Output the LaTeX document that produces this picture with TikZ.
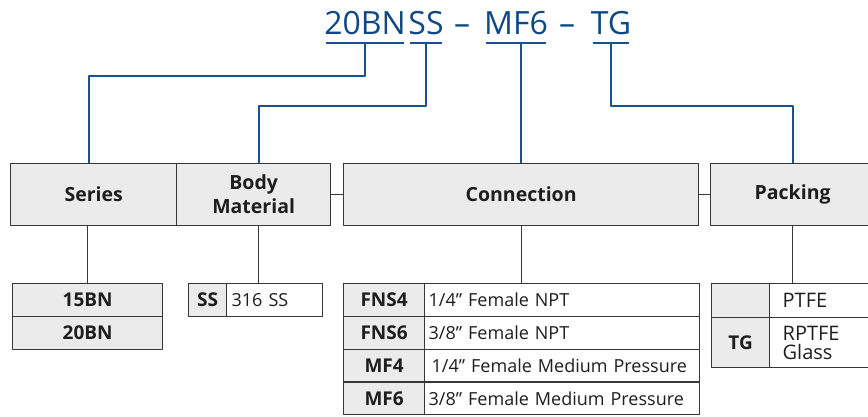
\documentclass[tikz,border=0pt]{standalone}
\usepackage{fontspec}
\setmainfont{Open Sans}
\definecolor{codeblue}{RGB}{24,82,148}
\definecolor{ttlblue}{RGB}{14,72,134}
\definecolor{boxgray}{RGB}{235,235,235}
\definecolor{boxline}{RGB}{55,55,55}
\definecolor{txtgray}{RGB}{30,30,30}
\begin{document}
\begin{tikzpicture}[x=1pt,y=-1pt, line join=round,
	ttl/.style={inner sep=0pt, anchor=base, text=ttlblue, font=\fontsize{32}{34}\selectfont},
	hdr/.style={draw=boxline, fill=boxgray, line width=1.3pt, inner sep=0pt, anchor=north west, minimum height=62pt, align=center, text=txtgray, font=\fontsize{19.5}{24}\selectfont\bfseries},
	code/.style={draw=boxline, fill=boxgray, line width=1.3pt, inner sep=0pt, anchor=north west, text=txtgray, font=\fontsize{19}{21}\selectfont\bfseries},
	desc/.style={draw=boxline, fill=white, line width=1.3pt, inner ysep=0pt, inner xsep=4pt, anchor=north west, align=left, text=txtgray, font=\fontsize{18}{20}\selectfont},
	link/.style={draw=codeblue, line width=2pt},
	tie/.style={draw=boxline, line width=1.2pt}]
	\useasboundingbox (0,0) rectangle (868,416);
	\clip (0,0) rectangle (868,416);
	% model code
	\node[ttl] (t20BN) at (365,34) {20BN};
	\node[ttl] (tSS) at (426,34) {SS};
	\node[ttl] at (462,34) {–};
	\node[ttl] (tMF6) at (516,34) {MF6};
	\node[ttl] at (567,34) {–};
	\node[ttl] (tTG) at (611,34) {TG};
	\coordinate (ul) at (0,43);
	\foreach \t in {t20BN,tSS,tMF6,tTG}
		\draw[link] ([xshift=2pt]\t.south west |- ul) -- ([xshift=-2pt]\t.south east |- ul);
	% header boxes
	\node[hdr, minimum width=166pt] (series) at (10,163) {Series};
	\node[hdr, minimum width=154pt] (body) at (176,163) {Body\\Material};
	\node[hdr, minimum width=355pt] (conn) at (343,163) {Connection};
	\node[hdr, minimum width=164pt] (pack) at (710,163) {Packing};
	\draw[tie] (body.east) -- (conn.west);
	\draw[tie] (conn.east) -- (pack.west);
	% code lines
	\draw[link] (t20BN.south |- ul) -- ++(0,33) -| ([xshift=-5pt]series.north);
	\draw[link] (tSS.south |- ul) -- ++(0,63) -| ([xshift=5pt]body.north);
	\draw[link] (conn.north) -- (conn.north |- ul);
	\draw[link] (tTG.south |- ul) -- ++(0,63) -| (pack.north);
	% series
	\node[code, minimum width=150pt, minimum height=33pt] (s15) at (12,283) {15BN};
	\node[code, minimum width=150pt, minimum height=33pt] (s20) at (12,316) {20BN};
	% body material
	\node[code, minimum width=38pt, minimum height=33pt] (bSS) at (188,283) {SS};
	\node[desc, text width=86pt, inner xsep=5pt, minimum height=33pt] (bDesc) at (226,283) {316 SS};
	% connection
	\node[code, minimum width=81pt, minimum height=32.75pt] (cFNS4) at (343,283) {FNS4};
	\node[code, minimum width=81pt, minimum height=32.75pt] (cFNS6) at (343,315.75) {FNS6};
	\node[code, minimum width=81pt, minimum height=32.75pt] (cMF4) at (343,348.5) {MF4};
	\node[code, minimum width=81pt, minimum height=32.75pt] (cMF6) at (343,381.25) {MF6};
	\node[desc, text width=267pt, minimum height=32.75pt] (dFNS4) at (424,283) {1/4" Female NPT};
	\node[desc, text width=267pt, minimum height=32.75pt] (dFNS6) at (424,315.75) {3/8" Female NPT};
	\node[desc, text width=267pt, minimum height=32.75pt] (dMF4) at (424,348.5) {\,1/4" Female Medium Pressure};
	\node[desc, text width=267pt, minimum height=32.75pt] (dMF6) at (424,381.25) {3/8" Female Medium Pressure};
	% packing
	\node[code, minimum width=58pt, minimum height=34pt] (pBlank) at (711,283) {};
	\node[code, minimum width=58pt, minimum height=50pt] (pTG) at (711,317) {TG};
	\node[desc, text width=85pt, inner xsep=13pt, minimum height=34pt, font=\fontsize{20}{22}\selectfont] (pPTFE) at (769,283) {PTFE};
	\node[desc, text width=85pt, inner xsep=13pt, minimum height=50pt, font=\fontsize{20}{19}\selectfont] (pRPTFE) at (769,317) {RPTFE\\Glass};
	% drops
	\draw[tie] (s15.north) -- (s15.north |- series.south);
	\draw[tie] ([xshift=5pt]body.south) -- ([xshift=5pt]body.south |- bDesc.north);
	\draw[tie] (conn.south) -- (conn.south |- dFNS4.north);
	\draw[tie] (pack.south) -- (pack.south |- pPTFE.north);
\end{tikzpicture}
\end{document}
